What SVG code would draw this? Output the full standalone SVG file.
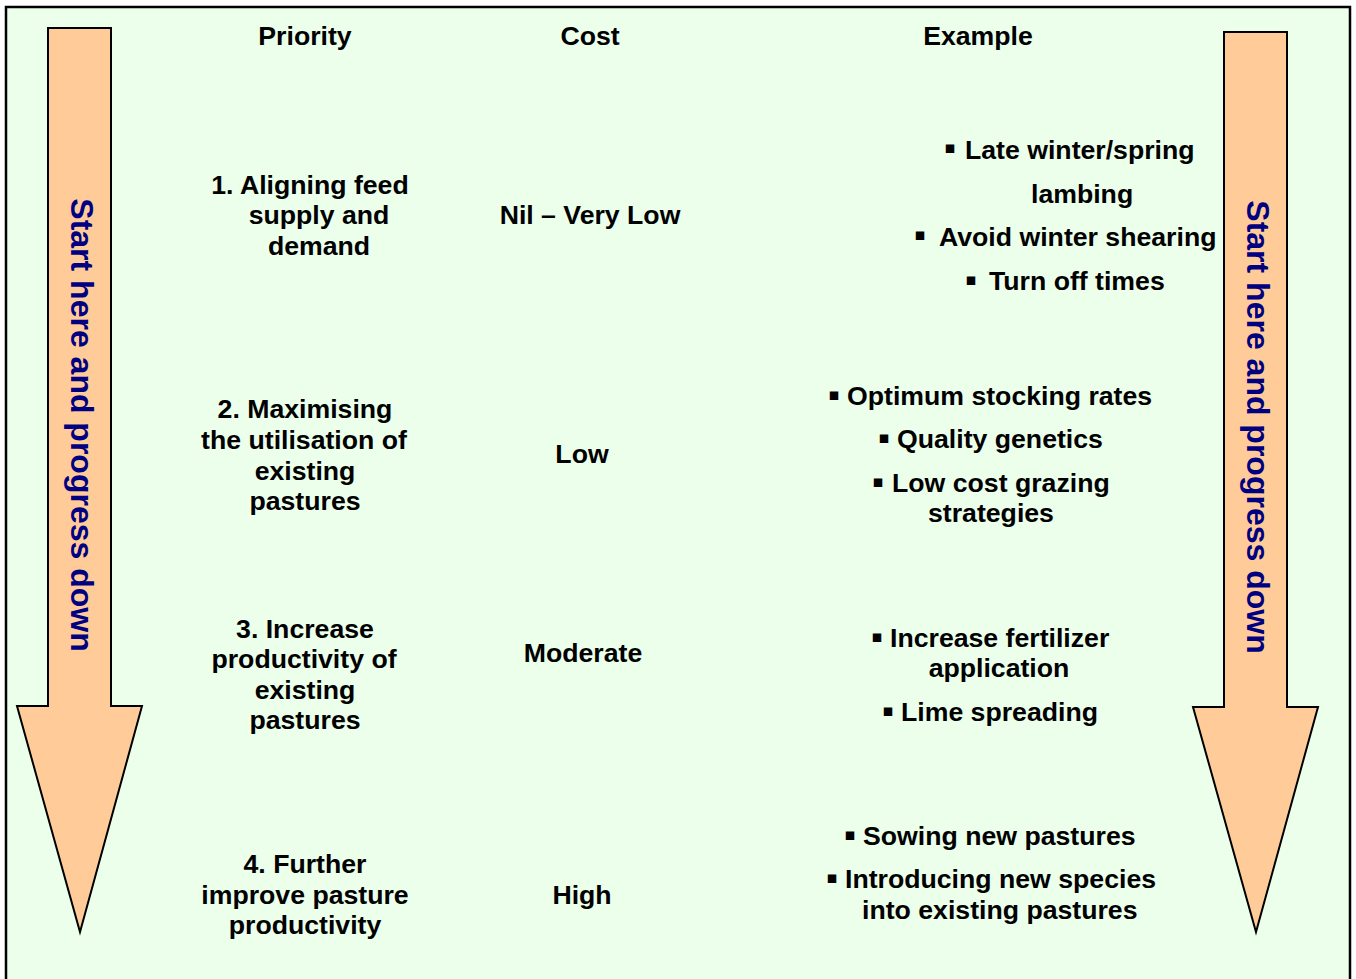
<svg xmlns="http://www.w3.org/2000/svg" width="1356" height="979" viewBox="0 0 1356 979">
<style>
.t{font-family:"Liberation Sans",Arial,sans-serif;font-weight:bold;font-size:26.67px;fill:#000}
.m{text-anchor:middle}
.b{font-family:"DejaVu Sans",sans-serif;font-size:17px;fill:#000;text-anchor:middle}
.v{font-family:"Liberation Sans",Arial,sans-serif;font-weight:bold;font-size:32px;fill:#000080;text-anchor:middle}
.arrow{fill:#FFCC99;stroke:#000;stroke-width:2;stroke-linejoin:miter}
</style>
<rect x="0" y="0" width="1356" height="979" fill="#fff"/>
<rect id="frame" x="6" y="7" width="1344" height="990" fill="#EBFFEB" stroke="#000" stroke-width="2.5"/>
<g id="connectors">
<g id="arrow-left">
<polygon class="arrow" points="48,28 111,28 111,706 142,706 80,932 17,706 48,706"/>
<text class="v" transform="translate(71,425) rotate(90)">Start here and progress down</text>
</g>
<g id="arrow-right">
<polygon class="arrow" points="1224,32 1287,32 1287,707 1318,707 1256,932 1193,707 1224,707"/>
<text class="v" transform="translate(1247,427) rotate(90)">Start here and progress down</text>
</g>
</g>
<g id="headers">
<text class="t m" x="305" y="45">Priority</text>
<text class="t m" x="590" y="45">Cost</text>
<text class="t m" x="978" y="45">Example</text>
</g>
<g id="priority-1">
<text class="t m" x="310" y="194">1. Aligning feed</text>
<text class="t m" x="319" y="224">supply and</text>
<text class="t m" x="319" y="255">demand</text>
</g>
<g id="cost-1"><text class="t m" x="590" y="224">Nil – Very Low</text></g>
<g id="example-1">
<text class="b" x="950" y="153">▪</text><text class="t" x="965" y="159">Late winter/spring</text>
<text class="t" x="1031" y="203">lambing</text>
<text class="b" x="920" y="240">▪</text><text class="t" x="939" y="246">Avoid winter shearing</text>
<text class="b" x="971" y="285">▪</text><text class="t" x="989" y="290">Turn off times</text>
</g>
<g id="priority-2">
<text class="t m" x="305" y="418">2. Maximising</text>
<text class="t m" x="304" y="449">the utilisation of</text>
<text class="t m" x="305" y="480">existing</text>
<text class="t m" x="305" y="510">pastures</text>
</g>
<g id="cost-2"><text class="t m" x="582" y="463">Low</text></g>
<g id="example-2">
<text class="b" x="834" y="400">▪</text><text class="t" x="847" y="405">Optimum stocking rates</text>
<text class="b" x="884" y="443">▪</text><text class="t" x="897" y="448">Quality genetics</text>
<text class="b" x="878" y="487">▪</text><text class="t" x="892" y="492">Low cost grazing</text>
<text class="t" x="928" y="522">strategies</text>
</g>
<g id="priority-3">
<text class="t m" x="305" y="638">3. Increase</text>
<text class="t m" x="304" y="668">productivity of</text>
<text class="t m" x="305" y="699">existing</text>
<text class="t m" x="305" y="729">pastures</text>
</g>
<g id="cost-3"><text class="t m" x="583" y="662">Moderate</text></g>
<g id="example-3">
<text class="b" x="877" y="642">▪</text><text class="t" x="890" y="647">Increase fertilizer</text>
<text class="t m" x="999" y="677">application</text>
<text class="b" x="888" y="716">▪</text><text class="t" x="901" y="721">Lime spreading</text>
</g>
<g id="priority-4">
<text class="t m" x="305" y="873">4. Further</text>
<text class="t m" x="305" y="904">improve pasture</text>
<text class="t m" x="305" y="934">productivity</text>
</g>
<g id="cost-4"><text class="t m" x="582" y="904">High</text></g>
<g id="example-4">
<text class="b" x="850" y="840">▪</text><text class="t" x="863" y="845">Sowing new pastures</text>
<text class="b" x="832" y="883">▪</text><text class="t" x="845" y="888">Introducing new species</text>
<text class="t" x="862" y="919">into existing pastures</text>
</g>
</svg>
